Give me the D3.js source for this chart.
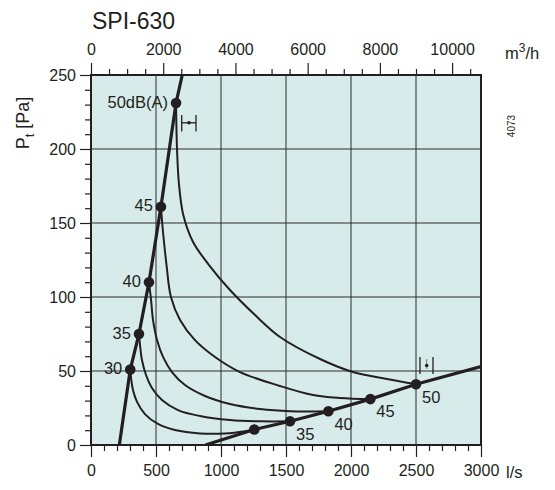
<!DOCTYPE html>
<html><head><meta charset="utf-8">
<script src="https://cdn.jsdelivr.net/npm/d3@7"></script>
<style>
html,body{margin:0;padding:0;background:#fff;}
text{font-family:"Liberation Sans",Arial,Helvetica,sans-serif;fill:#231f20;}
</style></head>
<body><svg id="c" width="555" height="490"></svg>
<script>
// ---- data ----
const title = "SPI-630";
const bottomTicks = [0,500,1000,1500,2000,2500,3000];        // l/s
const topTicks = [0,2000,4000,6000,8000,10000];              // m3/h
const leftTicks = [0,50,100,150,200,250];                    // Pa
// steep system line (upper dots), l/s and Pa
const steepFlow = [218,302,369,446,538,654,702];
const steepPres = [0,51,75,110,161,231,250];
const steepDotFlow = [302,369,446,538,654];
const steepDotPres = [51,75,110,161,231];
const steepLabels = ["30","35","40","45","50dB(A)"];
// shallow system line (lower dots)
const lowFlow = [880,1256,1531,1826,2149,2500,3000];
const lowPres = [0,10.5,16,22.8,31,41,53];
const lowDotFlow = [1256,1531,1826,2149,2500];
const lowDotPres = [10.5,16,22.8,31,41];
const lowLabels = ["","35","40","45","50"];
// iso-noise curves (dB(A))
const c30Flow = [302,308,323,354,415,515,646,838,1031,1185,1256];
const c30Pres = [51,45.3,37.2,29.1,20.9,14.2,10.1,7.8,7.8,9.3,10.5];
const c35Flow = [369,377,392,423,469,546,669,838,1069,1300,1531];
const c35Pres = [75,67.6,57.4,47.3,38.5,30.4,23.6,19.6,16.9,16,16];
const c40Flow = [446,462,477,508,554,623,723,877,1069,1300,1531,1826];
const c40Pres = [110,98,84.5,70.9,59.5,49.3,40.5,33.1,27.7,24.3,22.8,22.8];
const c45Flow = [538,554,581,615,685,800,954,1146,1454,1708,1915,2149];
const c45Pres = [161,143.9,121.6,100,84.5,70.9,59.5,49.3,39.9,33.8,31.8,31];
const c50Flow = [654,662,677,710,785,908,1069,1262,1454,1762,2015,2277,2500];
const c50Pres = [231,199,176,155.4,137.2,121.6,104.7,87.8,73,58.1,49.3,44.6,41];

const svg = d3.select("#c");
const x = d3.scaleLinear().domain([0,3000]).range([91,481]);
const y = d3.scaleLinear().domain([0,250]).range([445,75]);
const ink = "#231f20";

// background
svg.append("rect").attr("x",x(0)).attr("y",y(250)).attr("width",x(3000)-x(0)).attr("height",y(0)-y(250)).attr("fill","#d7ecea");

// grid
const grid = svg.append("g");
bottomTicks.slice(1,-1).forEach(v=>grid.append("line").attr("x1",x(v)).attr("x2",x(v)).attr("y1",y(0)).attr("y2",y(250)).attr("stroke","#3c3c3c").attr("stroke-width",1.1));
leftTicks.slice(1,-1).forEach(v=>grid.append("line").attr("y1",y(v)).attr("y2",y(v)).attr("x1",x(0)).attr("x2",x(3000)).attr("stroke","#2a2a2a").attr("stroke-width",1.1));

// axes
function styleAxis(g){g.select(".domain").remove();g.selectAll("line").attr("stroke",ink).attr("stroke-width",1.2);g.selectAll("text").attr("font-size","16px").style("font-family",'"Liberation Sans",Arial,sans-serif').attr("fill",ink);}
const minorB = d3.range(0,3001,100).filter(v=>v%500!==0);
svg.append("g").attr("transform",`translate(0,${y(0)})`).call(d3.axisBottom(x).tickValues(minorB).tickSize(6).tickFormat("")).call(styleAxis);
svg.append("g").attr("transform",`translate(0,${y(0)})`).call(d3.axisBottom(x).tickValues(bottomTicks).tickSize(12).tickPadding(8).tickFormat(d3.format("d"))).call(styleAxis);

const m3h = d3.scaleLinear().domain([0,3000*3.6]).range([91,481]);
const minorT = d3.range(0,10801,500).filter(v=>v%2000!==0);
svg.append("g").attr("transform",`translate(0,${y(250)})`).call(d3.axisTop(m3h).tickValues(minorT).tickSize(6).tickFormat("")).call(styleAxis);
svg.append("g").attr("transform",`translate(0,${y(250)})`).call(d3.axisTop(m3h).tickValues(topTicks).tickSize(12).tickPadding(8).tickFormat(d3.format("d"))).call(styleAxis);

const minorL = d3.range(0,251,10).filter(v=>v%50!==0);
svg.append("g").attr("transform",`translate(${x(0)},0)`).call(d3.axisLeft(y).tickValues(minorL).tickSize(6).tickFormat("")).call(styleAxis);
svg.append("g").attr("transform",`translate(${x(0)},0)`).call(d3.axisLeft(y).tickValues(leftTicks).tickSize(11).tickPadding(4).tickFormat(d3.format("d"))).call(styleAxis);

// frame
svg.append("rect").attr("x",x(0)).attr("y",y(250)).attr("width",x(3000)-x(0)).attr("height",y(0)-y(250)).attr("fill","none").attr("stroke",ink).attr("stroke-width",2);

// clip
svg.append("clipPath").attr("id","clip").append("rect").attr("x",x(0)).attr("y",y(250)).attr("width",x(3000)-x(0)).attr("height",y(0)-y(250));
const plot = svg.append("g").attr("clip-path","url(#clip)");

const curveLine = d3.line().x(d=>x(d[0])).y(d=>y(d[1])).curve(d3.curveCatmullRom.alpha(0.5));
const straight = d3.line().x(d=>x(d[0])).y(d=>y(d[1]));
const zip=(a,b)=>a.map((v,i)=>[v,b[i]]);

[[c30Flow,c30Pres],[c35Flow,c35Pres],[c40Flow,c40Pres],[c45Flow,c45Pres],[c50Flow,c50Pres]].forEach(([f,p])=>{
  plot.append("path").attr("d",curveLine(zip(f,p))).attr("fill","none").attr("stroke",ink).attr("stroke-width",2);
});
plot.append("path").attr("d",straight(zip(steepFlow,steepPres))).attr("fill","none").attr("stroke",ink).attr("stroke-width",3.2);
plot.append("path").attr("d",straight(zip(lowFlow,lowPres))).attr("fill","none").attr("stroke",ink).attr("stroke-width",3.2);

steepDotFlow.forEach((f,i)=>{
  svg.append("circle").attr("cx",x(f)).attr("cy",y(steepDotPres[i])).attr("r",5.3).attr("fill",ink);
  svg.append("text").attr("x",x(f)-8).attr("y",y(steepDotPres[i])-1).attr("dy","0.35em").attr("text-anchor","end").attr("font-size","16.5px").text(steepLabels[i]);
});
lowDotFlow.forEach((f,i)=>{
  svg.append("circle").attr("cx",x(f)).attr("cy",y(lowDotPres[i])).attr("r",5.3).attr("fill",ink);
  if(lowLabels[i]) svg.append("text").attr("x",x(f)+6).attr("y",y(lowDotPres[i])+12.5).attr("dy","0.35em").attr("text-anchor","start").attr("font-size","16.5px").text(lowLabels[i]);
});

// operating-range markers
const m1 = svg.append("g").attr("stroke",ink).attr("stroke-width",1.3);
m1.append("line").attr("x1",181.7).attr("x2",181.7).attr("y1",115).attr("y2",131.5);
m1.append("line").attr("x1",196).attr("x2",196).attr("y1",115).attr("y2",131.5);
m1.append("line").attr("x1",181.7).attr("x2",196).attr("y1",122.8).attr("y2",122.8);
svg.append("circle").attr("cx",189).attr("cy",122.8).attr("r",1.8).attr("fill",ink);
const m2 = svg.append("g").attr("stroke",ink).attr("stroke-width",1.3);
m2.append("line").attr("x1",420).attr("x2",420).attr("y1",357).attr("y2",374);
m2.append("line").attr("x1",433).attr("x2",433).attr("y1",357).attr("y2",374);
m2.append("line").attr("x1",426.7).attr("x2",426.7).attr("y1",359).attr("y2",369).attr("stroke","#777").attr("stroke-width",1);
svg.append("circle").attr("cx",426.7).attr("cy",365.5).attr("r",1.8).attr("fill",ink);

// titles and units
svg.append("text").attr("x",92).attr("y",29).attr("font-size","23px").text(title);
const mu = svg.append("text").attr("x",505).attr("y",59).attr("font-size","16.5px");
mu.append("tspan").text("m");
mu.append("tspan").attr("dy",-7).attr("font-size","12px").text("3");
mu.append("tspan").attr("dy",7).text("/h");
svg.append("text").attr("x",506).attr("y",478).attr("font-size","16.5px").text("l/s");
const pt = svg.append("text").attr("transform","translate(29,123) rotate(-90)").attr("text-anchor","middle").attr("font-size","18px");
pt.append("tspan").text("P");
pt.append("tspan").attr("dy",5).attr("font-size","13px").text("t");
pt.append("tspan").attr("dy",-5).text(" [Pa]");
svg.append("text").attr("transform","translate(515,126) rotate(-90)").attr("text-anchor","middle").attr("font-size","10px").text("4073");
</script></body></html>
